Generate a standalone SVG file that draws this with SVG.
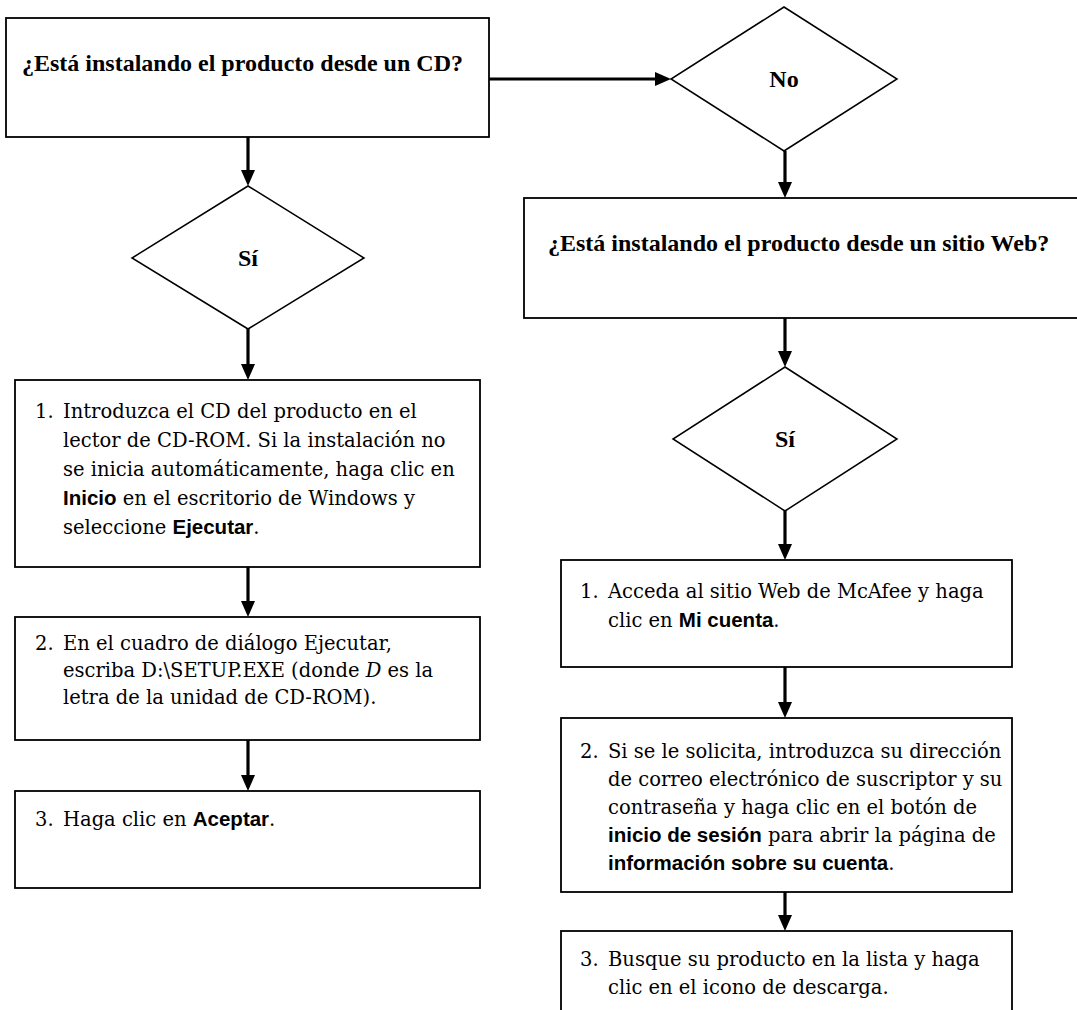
<svg xmlns="http://www.w3.org/2000/svg" width="1077" height="1010" viewBox="0 0 1077 1010">
<style>
.box{fill:#fff;stroke:#000;stroke-width:1.8}
.dia{fill:#fff;stroke:#000;stroke-width:1.5}
.con{stroke:#000;stroke-width:3.2;fill:none}
.t{font-family:"DejaVu Serif","Liberation Serif",serif;font-size:19.5px;fill:#000}
.h{font-family:"Liberation Serif","Times New Roman",serif;font-size:24px;font-weight:bold;fill:#000}
.b{font-family:"Liberation Sans",Arial,sans-serif;font-weight:bold;font-size:20.5px}
.i{font-style:italic}
</style>
<defs>
<marker id="ah" viewBox="0 0 16 14" markerWidth="16" markerHeight="14" refX="8" refY="7" orient="auto" markerUnits="userSpaceOnUse">
<path d="M0,0 L16,7 L0,14 z" fill="#000"/>
</marker>
</defs>
<rect width="1077" height="1010" fill="#fff"/>
<g id="connectors">
<line class="con" x1="489" y1="79" x2="663" y2="79" marker-end="url(#ah)"/>
<line class="con" x1="248" y1="137" x2="248" y2="178" marker-end="url(#ah)"/>
<line class="con" x1="248" y1="329" x2="248" y2="372" marker-end="url(#ah)"/>
<line class="con" x1="248" y1="567" x2="248" y2="609" marker-end="url(#ah)"/>
<line class="con" x1="248" y1="740" x2="248" y2="783" marker-end="url(#ah)"/>
<line class="con" x1="785" y1="151" x2="785" y2="190" marker-end="url(#ah)"/>
<line class="con" x1="785" y1="318" x2="785" y2="359" marker-end="url(#ah)"/>
<line class="con" x1="785" y1="511" x2="785" y2="552" marker-end="url(#ah)"/>
<line class="con" x1="785" y1="667" x2="785" y2="710" marker-end="url(#ah)"/>
<line class="con" x1="785" y1="892" x2="785" y2="923" marker-end="url(#ah)"/>
</g>
<g id="q-cd">
<rect class="box" x="6" y="18" width="483" height="119"/>
<text class="h" x="22" y="71">¿Está instalando el producto desde un CD?</text>
</g>
<g id="no">
<polygon class="dia" points="784,7 897,79 784,151 671,79"/>
<text class="h" x="784" y="87" text-anchor="middle">No</text>
</g>
<g id="si-left">
<polygon class="dia" points="248,186 364,258 248,329 132,258"/>
<text class="h" x="248" y="266" text-anchor="middle">Sí</text>
</g>
<g id="step1-cd">
<rect class="box" x="15" y="380" width="465" height="187"/>
<text class="t" x="35" y="418">1.</text>
<text class="t" x="63" y="418">Introduzca el CD del producto en el</text>
<text class="t" x="63" y="447">lector de CD-ROM. Si la instalación no</text>
<text class="t" x="63" y="476">se inicia automáticamente, haga clic en</text>
<text class="t" x="63" y="505"><tspan class="b">Inicio</tspan> en el escritorio de Windows y</text>
<text class="t" x="63" y="534">seleccione <tspan class="b">Ejecutar</tspan>.</text>
</g>
<g id="step2-cd">
<rect class="box" x="15" y="617" width="465" height="123"/>
<text class="t" x="35" y="650">2.</text>
<text class="t" x="63" y="650">En el cuadro de diálogo Ejecutar,</text>
<text class="t" x="63" y="677">escriba D:\SETUP.EXE (donde <tspan class="i">D</tspan> es la</text>
<text class="t" x="63" y="704">letra de la unidad de CD-ROM).</text>
</g>
<g id="step3-cd">
<rect class="box" x="15" y="791" width="465" height="97"/>
<text class="t" x="35" y="826">3.</text>
<text class="t" x="63" y="826">Haga clic en <tspan class="b">Aceptar</tspan>.</text>
</g>
<g id="q-web">
<rect class="box" x="524" y="198" width="560" height="120"/>
<text class="h" x="548" y="251">¿Está instalando el producto desde un sitio Web?</text>
</g>
<g id="si-right">
<polygon class="dia" points="785,367 897,439 785,511 673,439"/>
<text class="h" x="785" y="447" text-anchor="middle">Sí</text>
</g>
<g id="step1-web">
<rect class="box" x="561" y="560" width="451" height="107"/>
<text class="t" x="580" y="598">1.</text>
<text class="t" x="608" y="598">Acceda al sitio Web de McAfee y haga</text>
<text class="t" x="608" y="627">clic en <tspan class="b">Mi cuenta</tspan>.</text>
</g>
<g id="step2-web">
<rect class="box" x="561" y="718" width="451" height="174"/>
<text class="t" x="580" y="758">2.</text>
<text class="t" x="608" y="758">Si se le solicita, introduzca su dirección</text>
<text class="t" x="608" y="786">de correo electrónico de suscriptor y su</text>
<text class="t" x="608" y="814">contraseña y haga clic en el botón de</text>
<text class="t" x="608" y="842"><tspan class="b">inicio de sesión</tspan> para abrir la página de</text>
<text class="t" x="608" y="870"><tspan class="b">información sobre su cuenta</tspan>.</text>
</g>
<g id="step3-web">
<rect class="box" x="561" y="931" width="451" height="100"/>
<text class="t" x="580" y="966">3.</text>
<text class="t" x="608" y="966">Busque su producto en la lista y haga</text>
<text class="t" x="608" y="994">clic en el icono de descarga.</text>
</g>
</svg>
